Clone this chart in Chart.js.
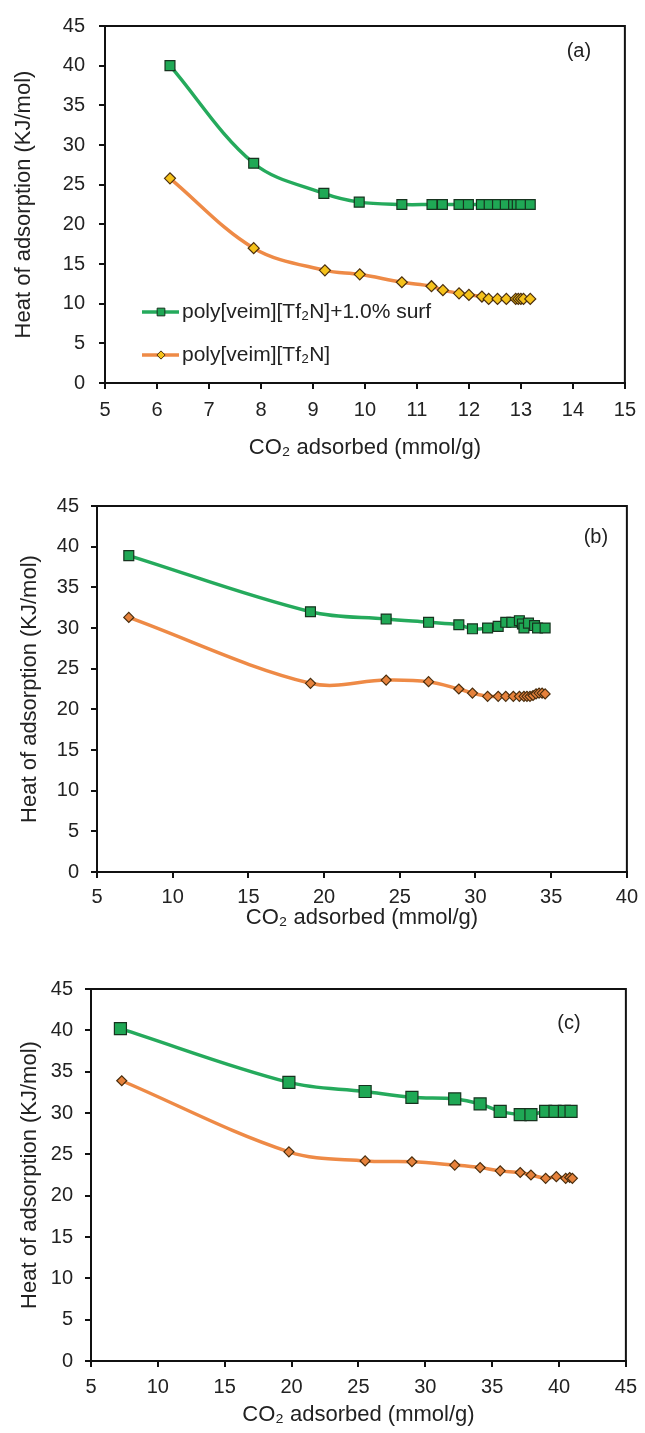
<!DOCTYPE html>
<html>
<head>
<meta charset="utf-8">
<script src="https://cdn.jsdelivr.net/npm/chart.js@4"></script>
<style>
  body { margin: 0; background: #fff; }
  canvas { position: absolute; left: 0; }
</style>
</head>
<body>
<canvas id="chartA" width="645" height="470" style="top:0"></canvas>
<canvas id="chartB" width="645" height="470" style="top:470px"></canvas>
<canvas id="chartC" width="645" height="483" style="top:950px"></canvas>
<script>
// series labels
const surfLabel = 'poly[veim][Tf\u2082N]+1.0% surf';
const pureLabel = 'poly[veim][Tf\u2082N]';
const xTitle = 'CO\u2082 adsorbed (mmol/g)';
const yTitle = 'Heat of adsorption (KJ/mol)';
const panelNames = ['(a)', '(b)', '(c)'];

// panel (a)
const aSurfX = [6.25, 7.86, 9.21, 9.89, 10.71, 11.29, 11.49, 11.81, 11.99, 12.24, 12.39, 12.55, 12.7, 12.86, 12.93, 13.0, 13.18];
const aSurfY = [40.0, 27.7, 23.9, 22.8, 22.5, 22.5, 22.5, 22.5, 22.5, 22.5, 22.5, 22.5, 22.5, 22.5, 22.5, 22.5, 22.5];
const aPureX = [6.25, 7.86, 9.23, 9.9, 10.71, 11.28, 11.5, 11.81, 12.0, 12.25, 12.38, 12.55, 12.72, 12.9, 12.95, 13.0, 13.05, 13.18];
const aPureY = [25.8, 17.0, 14.2, 13.7, 12.7, 12.2, 11.7, 11.3, 11.1, 10.9, 10.6, 10.6, 10.6, 10.6, 10.6, 10.6, 10.6, 10.6];

// panel (b)
const bSurfX = [7.1, 19.1, 24.1, 26.9, 28.9, 29.8, 30.8, 31.5, 32.0, 32.4, 32.9, 33.1, 33.2, 33.5, 33.9, 34.1, 34.6];
const bSurfY = [38.9, 32.0, 31.1, 30.7, 30.4, 29.9, 30.0, 30.2, 30.7, 30.7, 30.9, 30.5, 30.0, 30.6, 30.3, 30.0, 30.0];
const bPureX = [7.1, 19.1, 24.1, 26.9, 28.9, 29.8, 30.8, 31.5, 32.0, 32.5, 32.9, 33.2, 33.4, 33.6, 33.8, 34.0, 34.2, 34.4, 34.6];
const bPureY = [31.3, 23.2, 23.6, 23.4, 22.5, 22.0, 21.6, 21.6, 21.6, 21.6, 21.6, 21.6, 21.6, 21.6, 21.7, 21.9, 22.0, 22.0, 21.9];

// panel (c)
const cSurfX = [7.2, 19.8, 25.5, 29.0, 32.2, 34.1, 35.6, 37.1, 37.9, 39.0, 39.7, 40.4, 40.9];
const cSurfY = [40.2, 33.7, 32.6, 31.9, 31.7, 31.1, 30.2, 29.8, 29.8, 30.2, 30.2, 30.2, 30.2];
const cPureX = [7.3, 19.8, 25.5, 29.0, 32.2, 34.1, 35.6, 37.1, 37.9, 39.0, 39.8, 40.5, 40.8, 41.0];
const cPureY = [33.9, 25.3, 24.2, 24.1, 23.7, 23.4, 23.0, 22.8, 22.5, 22.1, 22.3, 22.1, 22.2, 22.1];

Chart.defaults.font.family = "'Liberation Sans', Arial, sans-serif";
Chart.defaults.color = '#222';

const green = '#25aa5c';
const orange = '#ee8a46';

function points(xs, ys) {
    return xs.map((x, i) => ({ x: x, y: ys[i] }));
}

// box around plot, panel letter and (optional) legend inside the plot
const framePlugin = {
    id: 'frame',
    beforeDatasetsDraw(chart, args, opts) {
        const { ctx, chartArea: a } = chart;
        ctx.save();
        ctx.strokeStyle = '#111';
        ctx.lineWidth = 2;
        ctx.strokeRect(a.left, a.top, a.right - a.left, a.bottom - a.top);
        ctx.restore();
    },
    afterDraw(chart, args, opts) {
        const { ctx, chartArea: a } = chart;
        ctx.save();
        ctx.fillStyle = '#222';
        ctx.font = "20px 'Liberation Sans', Arial, sans-serif";
        ctx.textAlign = 'center';
        ctx.textBaseline = 'middle';
        ctx.fillText(opts.name, a.right - opts.dx, a.top + opts.dy);

        if (opts.legend) {
            chart.data.datasets.forEach((ds, i) => {
                const y = opts.legend.y[i];
                const x0 = opts.legend.x;
                ctx.strokeStyle = ds.borderColor;
                ctx.lineWidth = 3.5;
                ctx.beginPath();
                ctx.moveTo(x0, y);
                ctx.lineTo(x0 + 37, y);
                ctx.stroke();
                ctx.fillStyle = ds.pointBackgroundColor;
                ctx.strokeStyle = ds.pointBorderColor;
                ctx.lineWidth = 1;
                ctx.beginPath();
                const s = ds.pointStyle === 'rect' ? ds.pointRadius * 0.55 : ds.pointRadius * 0.75;
                if (ds.pointStyle === 'rect') {
                    ctx.rect(x0 + 19 - s, y - s, 2 * s, 2 * s);
                } else {
                    ctx.moveTo(x0 + 19, y - s);
                    ctx.lineTo(x0 + 19 + s, y);
                    ctx.lineTo(x0 + 19, y + s);
                    ctx.lineTo(x0 + 19 - s, y);
                    ctx.closePath();
                }
                ctx.fill();
                ctx.stroke();
                ctx.fillStyle = '#222';
                ctx.font = "21px 'Liberation Sans', Arial, sans-serif";
                ctx.textAlign = 'left';
                ctx.fillText(ds.label, x0 + 40, y);
            });
        }
        ctx.restore();
    }
};

function makeChart(id, cfg) {
    return new Chart(document.getElementById(id), {
        type: 'scatter',
        data: {
            datasets: [
                {
                    label: surfLabel,
                    data: points(cfg.surfX, cfg.surfY),
                    showLine: true,
                    tension: 0.35,
                    borderColor: green,
                    borderWidth: 3.5,
                    pointStyle: 'rect',
                    pointRadius: cfg.sqR,
                    pointBackgroundColor: '#1fa855',
                    pointBorderColor: '#17331f',
                    pointBorderWidth: 1.2
                },
                {
                    label: pureLabel,
                    data: points(cfg.pureX, cfg.pureY),
                    showLine: true,
                    tension: 0.35,
                    borderColor: orange,
                    borderWidth: 3.5,
                    pointStyle: 'rectRot',
                    pointRadius: cfg.dmR,
                    pointBackgroundColor: cfg.dmFill,
                    pointBorderColor: '#4a2e0e',
                    pointBorderWidth: 1.2
                }
            ]
        },
        options: {
            responsive: false,
            animation: false,
            devicePixelRatio: 1,
            layout: { padding: { top: cfg.top, right: cfg.right, left: 0, bottom: 0 } },
            plugins: {
                legend: { display: false },
                tooltip: { enabled: false },
                frame: { name: cfg.name, dx: cfg.nameDx, dy: cfg.nameDy, legend: cfg.legend }
            },
            scales: {
                x: {
                    type: 'linear',
                    min: cfg.xMin,
                    max: cfg.xMax,
                    afterFit: (scale) => { scale.height = cfg.xH; },
                    ticks: { stepSize: cfg.xStep, padding: cfg.xPad, color: '#222', font: { size: 20 } },
                    grid: { drawOnChartArea: false, drawTicks: true, tickLength: 6, color: '#111', lineWidth: 2 },
                    border: { display: true, color: '#111', width: 2 },
                    title: { display: true, text: xTitle, color: '#222', font: { size: 22 }, padding: { top: 0, bottom: cfg.xTitlePad } }
                },
                y: {
                    min: 0,
                    max: 45,
                    afterFit: (scale) => { scale.width = cfg.yW; },
                    ticks: { stepSize: 5, padding: cfg.yPad, color: '#222', font: { size: 20 } },
                    grid: { drawOnChartArea: false, drawTicks: true, tickLength: 6, color: '#111', lineWidth: 2 },
                    border: { display: true, color: '#111', width: 2 },
                    title: { display: true, text: yTitle, color: '#222', font: { size: 22 }, padding: { top: cfg.yTitlePad, bottom: 0 } }
                }
            }
        },
        plugins: [framePlugin]
    });
}

makeChart('chartA', {
    surfX: aSurfX, surfY: aSurfY, pureX: aPureX, pureY: aPureY,
    xMin: 5, xMax: 15, xStep: 1,
    top: 25, right: 17, yW: 105, xH: 87,
    xPad: 9, yPad: 14, xTitlePad: 9, yTitlePad: 11,
    sqR: 7, dmR: 5.5, dmFill: '#f5c21b',
    name: panelNames[0], nameDx: 46, nameDy: 25,
    legend: { x: 142, y: [312, 355] }
});

makeChart('chartB', {
    surfX: bSurfX, surfY: bSurfY, pureX: bPureX, pureY: bPureY,
    xMin: 5, xMax: 40, xStep: 5,
    top: 36, right: 18, yW: 97, xH: 68,
    xPad: 7, yPad: 12, xTitlePad: 9, yTitlePad: 17,
    sqR: 7, dmR: 5, dmFill: '#e6823c',
    name: panelNames[1], nameDx: 31, nameDy: 31
});

makeChart('chartC', {
    surfX: cSurfX, surfY: cSurfY, pureX: cPureX, pureY: cPureY,
    xMin: 5, xMax: 45, xStep: 5,
    top: 39, right: 13, yW: 91, xH: 72,
    xPad: 8, yPad: 12, xTitlePad: 5, yTitlePad: 17,
    sqR: 8.5, dmR: 5, dmFill: '#e6823c',
    name: panelNames[2], nameDx: 57, nameDy: 34
});
</script>
</body>
</html>
